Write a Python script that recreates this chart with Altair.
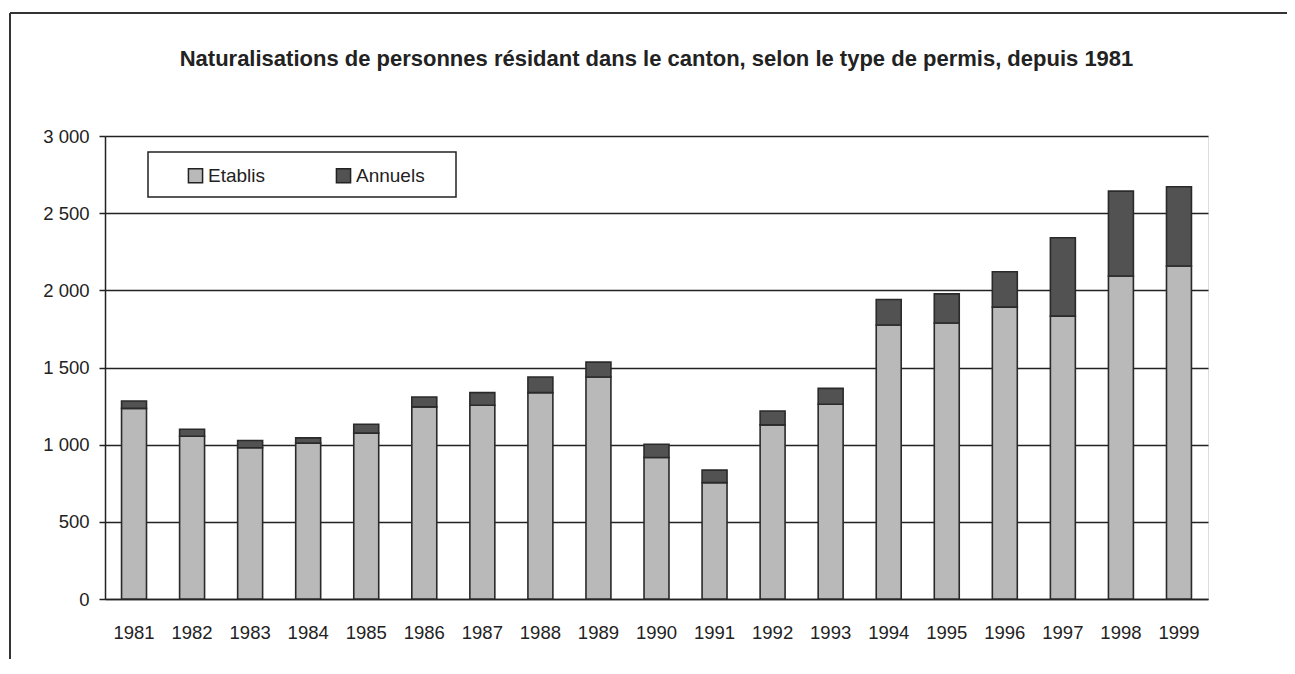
import altair as alt
import pandas as pd

years = [str(y) for y in range(1981, 2000)]
etablis = [1235, 1055, 980, 1010, 1075, 1245, 1255, 1337, 1438, 917,
           754, 1128, 1262, 1775, 1788, 1891, 1833, 2093, 2158]
annuels = [48, 45, 47, 34, 57, 64, 82, 101, 97, 86,
           81, 90, 103, 166, 189, 229, 508, 550, 513]
series = ["Etablis", "Annuels"]
colors = ["#b9b9b9", "#525252"]

rows = []
for y, e, a in zip(years, etablis, annuels):
    rows.append({"Année": y, "Type": "Etablis", "Nombre": e, "ordre": 0})
    rows.append({"Année": y, "Type": "Annuels", "Nombre": a, "ordre": 1})
df = pd.DataFrame(rows)

FONT = "Liberation Sans"

bars = alt.Chart(df).mark_bar(stroke="#2a2a2a", strokeWidth=1.6).encode(
    x=alt.X("Année:N", sort=years, title=None,
            scale=alt.Scale(paddingInner=0.57, paddingOuter=0.285),
            axis=alt.Axis(labelAngle=0, ticks=False, domain=True,
                          domainColor="#222", domainWidth=1.5,
                          labelPadding=24, labelFontSize=18.5,
                          labelFont=FONT, labelColor="#222", grid=False)),
    y=alt.Y("Nombre:Q", stack="zero", title=None,
            scale=alt.Scale(domain=[0, 3000], nice=False),
            axis=alt.Axis(values=[0, 500, 1000, 1500, 2000, 2500, 3000],
                          labelExpr="replace(format(datum.value, ','), ',', ' ')",
                          grid=True, gridColor="#222", gridWidth=1.5,
                          tickSize=6, tickColor="#222", tickWidth=1.5,
                          domainColor="#222", domainWidth=1.5,
                          labelPadding=10, labelFontSize=18.5, labelFont=FONT,
                          labelColor="#222")),
    color=alt.Color("Type:N", sort=series,
                    scale=alt.Scale(domain=series, range=colors),
                    legend=alt.Legend(title=None, orient="none",
                                      legendX=81, legendY=30,
                                      direction="horizontal",
                                      symbolType="square", symbolSize=200,
                                      symbolStrokeColor="#222",
                                      symbolStrokeWidth=1.5,
                                      labelFontSize=19, labelFont=FONT,
                                      labelColor="#222",
                                      columnPadding=67, labelOffset=3)),
    order=alt.Order("ordre:Q"),
)

one = alt.Chart(pd.DataFrame({"k": [0]}))

legend_box = one.mark_rect(fill="white", stroke="#222", strokeWidth=1.5).encode(
    x=alt.value(43), x2=alt.value(351), y=alt.value(16), y2=alt.value(61))

frame_top = one.mark_rule(color="#333", strokeWidth=2).encode(
    x=alt.value(-95), x2=alt.value(1200), y=alt.value(-123))
frame_left = one.mark_rule(color="#333", strokeWidth=2).encode(
    x=alt.value(-95), y=alt.value(-123), y2=alt.value(540))

chart = alt.layer(frame_top, frame_left, legend_box, bars).properties(
    width=1103, height=463,
    title=alt.TitleParams(
        "Naturalisations de personnes résidant dans le canton, selon le type de permis, depuis 1981",
        fontSize=22, font=FONT, fontWeight="bold", color="#222",
        anchor="middle", offset=-59),
    autosize=alt.AutoSizeParams(type="none"),
    padding={"left": 97, "top": 128, "right": 79, "bottom": 60},
).configure_view(stroke="#222", strokeWidth=1.5).configure(background="white")

chart.save("out.html", embed_options={"renderer": "svg", "actions": False})
